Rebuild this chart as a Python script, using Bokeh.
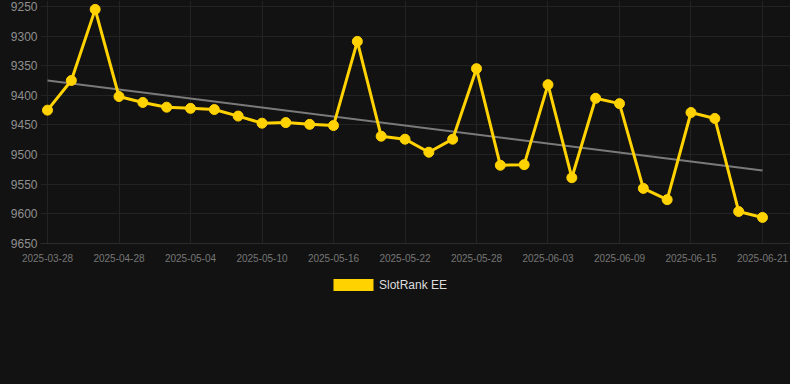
from bokeh.plotting import figure
from bokeh.models import Range1d, FixedTicker, Legend, LegendItem
from bokeh.layouts import column
from bokeh.embed import file_html
from bokeh.resources import INLINE

# ---- data ----
dates = [
    "2025-03-28", "2025-04-24", "2025-04-26", "2025-04-28", "2025-04-30", "2025-05-02",
    "2025-05-04", "2025-05-06", "2025-05-08", "2025-05-10", "2025-05-12", "2025-05-14",
    "2025-05-16", "2025-05-18", "2025-05-20", "2025-05-22", "2025-05-24", "2025-05-26",
    "2025-05-28", "2025-05-30", "2025-06-01", "2025-06-03", "2025-06-05", "2025-06-07",
    "2025-06-09", "2025-06-11", "2025-06-13", "2025-06-15", "2025-06-17", "2025-06-19",
    "2025-06-21",
]
rank = [
    9425, 9375, 9255, 9402, 9412, 9420, 9422, 9424, 9435, 9447, 9446, 9449,
    9451, 9309, 9469, 9474, 9496, 9474, 9355, 9518, 9517, 9382, 9539, 9405,
    9414, 9557, 9576, 9429, 9439, 9596, 9606,
]
trend_ends = [9375, 9527]
tick_positions = [0, 3, 6, 9, 12, 15, 18, 21, 24, 27, 30]
y_ticks = [9250, 9300, 9350, 9400, 9450, 9500, 9550, 9600, 9650]
series_name = "SlotRank EE"

GOLD = "#FFD200"
BG = "#121212"
GRID = "#232323"
FONT = "Liberation Sans"

idx = list(range(len(rank)))

p = figure(
    width=790, height=270,
    x_range=Range1d(-0.294, 31.175),
    y_range=Range1d(9650, 9240),
    output_backend="svg", toolbar_location=None,
    background_fill_color=BG, border_fill_color=BG,
    outline_line_color=None,
    min_border_left=40, min_border_right=0,
    min_border_top=0, min_border_bottom=27,
)

# axes
p.yaxis.ticker = FixedTicker(ticks=y_ticks)
p.yaxis.axis_line_color = None
p.yaxis.major_tick_line_color = None
p.yaxis.minor_tick_line_color = None
p.yaxis.major_tick_out = 0
p.yaxis.major_tick_in = 0
p.yaxis.major_label_standoff = 3
p.yaxis.major_label_text_font = FONT
p.yaxis.major_label_text_font_size = "12px"
p.yaxis.major_label_text_color = "#8f8f8f"

p.xaxis.ticker = FixedTicker(ticks=tick_positions)
p.xaxis.major_label_overrides = {i: dates[i] for i in tick_positions}
p.xaxis.axis_line_color = "#2c2c2c"
p.xaxis.major_tick_line_color = None
p.xaxis.minor_tick_line_color = None
p.xaxis.major_tick_out = 0
p.xaxis.major_tick_in = 0
p.xaxis.major_label_standoff = 10
p.xaxis.major_label_text_font = FONT
p.xaxis.major_label_text_font_size = "10px"
p.xaxis.major_label_text_color = "#767676"

p.xgrid.grid_line_color = GRID
p.ygrid.grid_line_color = GRID

# trend line
p.line(x=[idx[0], idx[-1]], y=trend_ends, line_color="#7a7a7a", line_width=2)

# main series
p.line(x=idx, y=rank, line_color=GOLD, line_width=3)
p.scatter(x=idx, y=rank, size=10, fill_color=GOLD, line_color=GOLD)

# ---- legend strip below the chart ----
pl = figure(
    width=790, height=114,
    x_range=Range1d(0, 1), y_range=Range1d(0, 1),
    output_backend="svg", toolbar_location=None,
    background_fill_color=BG, border_fill_color=BG,
    outline_line_color=None,
    x_axis_location=None, y_axis_location=None,
    min_border_left=0, min_border_right=0,
    min_border_top=0, min_border_bottom=0,
)
pl.xgrid.visible = False
pl.ygrid.visible = False
# swatch renderer: holds the first data point, which lies outside this strip's ranges
swatch = pl.rect(x=idx[:1], y=rank[:1], width=1, height=1, fill_color=GOLD, line_color=None)

legend = Legend(
    items=[LegendItem(label=series_name, renderers=[swatch])],
    location=(288, 92),
    orientation="horizontal",
    glyph_width=50, glyph_height=15,
    label_standoff=1,
    padding=0, margin=0, spacing=0,
    border_line_color=None,
    background_fill_alpha=0,
    label_text_font=FONT,
    label_text_font_size="12px",
    label_text_color="#dddddd",
    label_height=15,
)
pl.add_layout(legend, "center")

layout = column(p, pl, spacing=0)

html = file_html(layout, INLINE)
html = html.replace("</head>", "<style>html,body{background:#121212;}</style></head>", 1)
open("out.html", "w").write(html)
